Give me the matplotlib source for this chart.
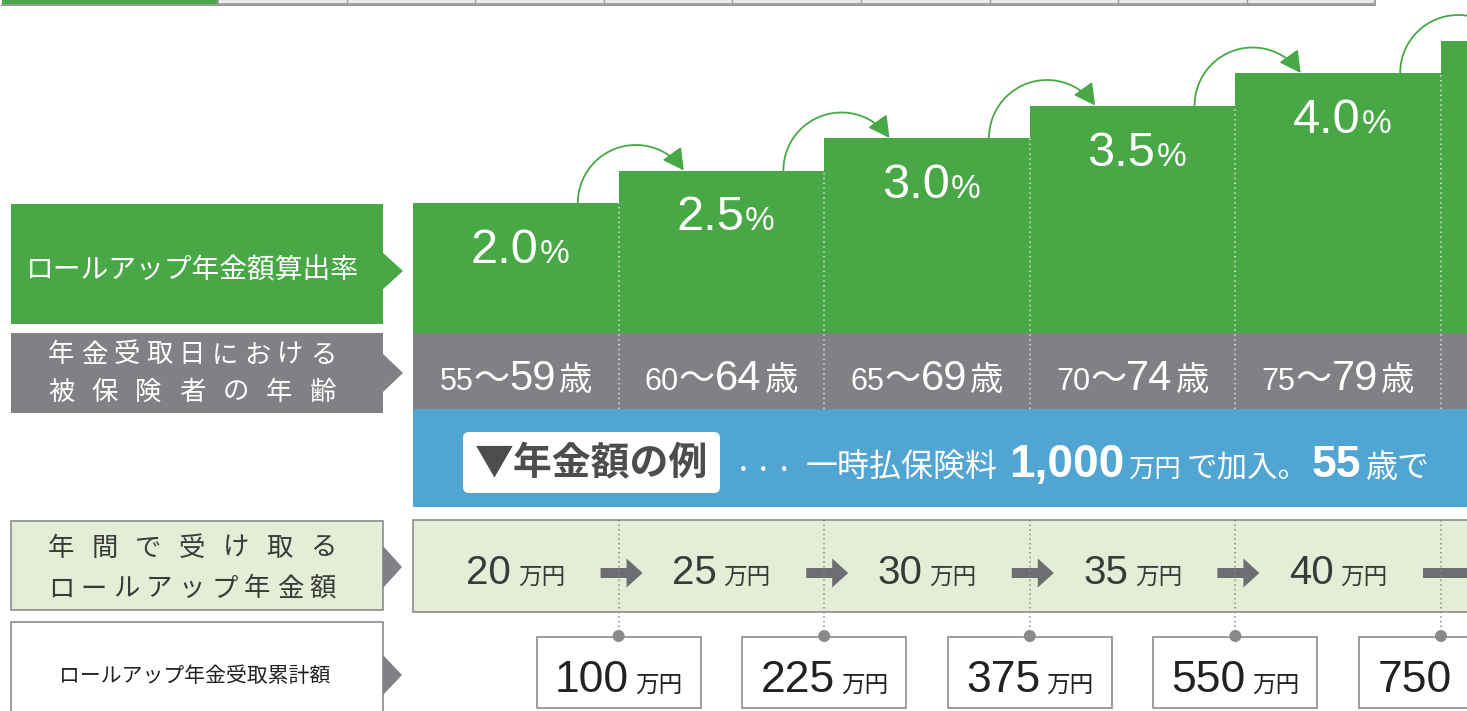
import numpy as np
import matplotlib
matplotlib.use("Agg")
import matplotlib.pyplot as plt
from matplotlib.patches import Rectangle, Polygon, FancyBboxPatch, FancyArrowPatch, FancyArrow, Circle
from matplotlib.path import Path

plt.rcParams["font.family"] = ["Noto Sans CJK JP", "DejaVu Sans"]

# data
rates = [2.0, 2.5, 3.0, 3.5, 4.0, 4.5]
age_from = ["55", "60", "65", "70", "75"]
age_to = ["59", "64", "69", "74", "79"]
annual = [20, 25, 30, 35, 40]
cumulative = [100, 225, 375, 550, 750]

GREEN = "#47a845"
GRAY = "#808185"
BLUE = "#50a5d3"
LIGHT = "#e4eed6"
EDGE = "#8c8c8c"
DARK = "#3a3a3a"
NUM = ["Liberation Sans", "Noto Sans CJK JP"]
JP = ["Noto Sans CJK JP"]

W, H = 1467, 711
X0, COL_W = 413, 205.6     # left edge of first column, column width (px)
PX_Y = 1 / 65              # rate units per pixel

fig = plt.figure(figsize=(W / 100, H / 100), dpi=100)
ax = fig.add_axes([0, 0, 1, 1])
ax.set_xlim(0, W)
ax.set_ylim(H, 0)
ax.axis("off")

# bar area: pixel rows 0..409, x from X0 to the right edge
axb = fig.add_axes([X0 / W, (H - 409) / H, (W - X0) / W, 409 / H])
axb.set_xlim(-0.5, -0.5 + (W - X0) / COL_W)
axb.set_ylim(-76 * PX_Y, 333 * PX_Y)
axb.axis("off")
axb.patch.set_alpha(0)


def chain(axis, x, y, parts, ha="center", color="white"):
    """place mixed-size text pieces side by side on a common baseline"""
    r = fig.canvas.get_renderer()
    arts = []
    for p in parts:
        s, size = p[0], p[1]
        opts = dict(p[2]) if len(p) > 2 else {}
        gap = opts.pop("gap", 0)
        opts.setdefault("family", NUM)
        opts.setdefault("color", color)
        t = axis.text(x, y, s, fontsize=size, va="baseline", ha="left", **opts)
        arts.append((t, gap))
    widths = [t.get_window_extent(r).width for t, _ in arts]
    total = sum(widths) + sum(g for _, g in arts)
    xd, yd = axis.transData.transform((x, y))
    cur = xd - total / 2 if ha == "center" else xd
    inv = axis.transData.inverted()
    for (t, g), w in zip(arts, widths):
        cur += g
        t.set_x(inv.transform((cur, yd))[0])
        if cur + w > W:          # runs past the right edge of the picture
            t.remove()
        cur += w


def spaced(s, x0, x1, y, size, color):
    cw = size * 100 / 72
    xs = np.linspace(x0 + cw / 2, x1 - cw / 2, len(s))
    for ch, xx in zip(s, xs):
        ax.text(xx, y, ch, fontsize=size, color=color, ha="center", va="center")


# top strip
ax.add_patch(Rectangle((2, -5), 216, 9, fc=GREEN, ec="none"))
ax.add_patch(Rectangle((218, -5), 1157, 9, fc="#e6ebe4", ec="#9a9a9a", lw=1.2))
for k in range(1, 9):
    xx = 218 + 128.6 * k
    ax.plot([xx, xx], [-5, 4], color="#9a9a9a", lw=1)
ax.plot([2, 1375], [4.5, 4.5], color="#9a9a9a", lw=1.5)

# bars and age row
idx = np.arange(len(rates))
axb.bar(idx, rates, width=1.0, color=GREEN, edgecolor="none")
axb.axhspan(-76 * PX_Y, 0, color=GRAY, lw=0)
for i in range(len(rates) - 1):
    axb.plot([i + 0.5, i + 0.5], [-76 * PX_Y, rates[i]], color="#dcdcdc",
             lw=1.1, ls=(0, (1, 2.2)))

for i, r in enumerate(rates):
    chain(axb, i + 0.02, r - 60 * PX_Y, [(f"{r:.1f}", 35), ("%", 24, {"gap": 1})])
for i in range(len(age_from)):
    chain(axb, i, -57 * PX_Y,
          [(age_from[i], 22), ("～", 26, {"family": JP}),
           (age_to[i], 30), ("歳", 24, {"family": JP, "gap": 3})])

# curved arrows between steps
R = 58
for i in range(len(rates) - 1):
    sx = i + 62 / COL_W
    cx = sx + R / COL_W
    end = np.arcsin(min((rates[i + 1] - rates[i]) / PX_Y / R, 1.0))
    th = np.linspace(np.pi, end, 60)
    xs = cx + R * np.cos(th) / COL_W
    ys = rates[i] + R * np.sin(th) * PX_Y
    arr = FancyArrowPatch(path=Path(np.column_stack([xs, ys])),
                          arrowstyle="-|>,head_length=0.65,head_width=0.35",
                          mutation_scale=20, lw=1.3, color=GREEN)
    axb.add_patch(arr)

# left labels
ax.add_patch(Rectangle((11, 204), 372, 120, fc=GREEN, ec="none"))
ax.add_patch(Polygon([(382, 252), (403, 271), (382, 290)], fc=GREEN, ec="none"))
ax.text(192, 270, "ロールアップ年金額算出率", fontsize=20, color="white",
        ha="center", va="center")

ax.add_patch(Rectangle((11, 333), 372, 80, fc=GRAY, ec="none"))
ax.add_patch(Polygon([(382, 353), (403, 373), (382, 393)], fc=GRAY, ec="none"))
spaced("年金受取日における", 48, 336, 355, 19, "white")
spaced("被保険者の年齢", 48, 336, 392, 19, "white")

# blue example band
ax.add_patch(Rectangle((X0, 409), W - X0 + 5, 98, fc=BLUE, ec="none"))
ax.add_patch(FancyBboxPatch((463, 432), 257, 61, boxstyle="round,pad=0,rounding_size=6",
                            fc="white", ec="none"))
ax.text(591, 464, "▼年金額の例", fontsize=28, fontweight="bold", color="#4d4d4d",
        ha="center", va="center", family=["Noto Sans CJK JP", "DejaVu Sans"])
chain(ax, 733, 477,
      [("・・・", 15, {"family": JP}),
       ("一時払保険料", 23, {"family": JP, "gap": 10}),
       ("1,000", 33, {"fontweight": "bold", "gap": 11}),
       ("万円", 19, {"family": JP, "gap": 4}),
       ("で加入。", 22, {"family": JP, "gap": 6}),
       ("55", 32, {"fontweight": "bold", "gap": 3}),
       ("歳で", 23, {"family": JP, "gap": 5})],
      ha="left")

# annual amount row
ax.add_patch(Rectangle((11, 521), 372, 89, fc=LIGHT, ec=EDGE, lw=1.2))
ax.add_patch(Polygon([(383, 546), (402, 567), (383, 588)], fc=GRAY, ec="none"))
spaced("年間で受け取る", 48, 336, 548, 19, DARK)
spaced("ロールアップ年金額", 48, 336, 589, 19, DARK)

ax.add_patch(Rectangle((X0, 520), W - X0 + 10, 92, fc=LIGHT, ec=EDGE, lw=1.2))
for i in range(len(cumulative)):
    b = X0 + COL_W * (i + 1)
    ax.plot([b, b], [520, 633], color="#8a8a8a", lw=1.1, ls=(0, (1, 2)))
for i, v in enumerate(annual):
    chain(ax, X0 + COL_W * (i + 0.5), 584,
          [(str(v), 29), ("万円", 17, {"family": JP, "gap": 7})], color=DARK)
for i in range(len(annual)):
    b = X0 + COL_W * (i + 1)
    body = 26 if i < len(annual) - 1 else 50
    ax.add_patch(FancyArrow(b - 18, 573, body, 0, width=10, head_width=29, head_length=16,
                            length_includes_head=False, fc="#6d6e71", ec="none"))

# cumulative row
ax.add_patch(Rectangle((11, 622), 372, 100, fc="white", ec=EDGE, lw=1.2))
ax.add_patch(Polygon([(383, 655), (402, 675), (383, 695)], fc=GRAY, ec="none"))
ax.text(195, 676, "ロールアップ年金受取累計額", fontsize=15, color="#222222",
        ha="center", va="center")
for i, v in enumerate(cumulative):
    b = X0 + COL_W * (i + 1)
    ax.add_patch(Rectangle((b - 82, 637), 164, 71, fc="white", ec=EDGE, lw=1.2))
    ax.add_patch(Circle((b, 636), 6, fc="#8a8a8a", ec="none"))
    chain(ax, b, 692, [(str(v), 32), ("万円", 17, {"family": JP, "gap": 6})],
          color="#222222")

fig.savefig("out.png", dpi=100)
